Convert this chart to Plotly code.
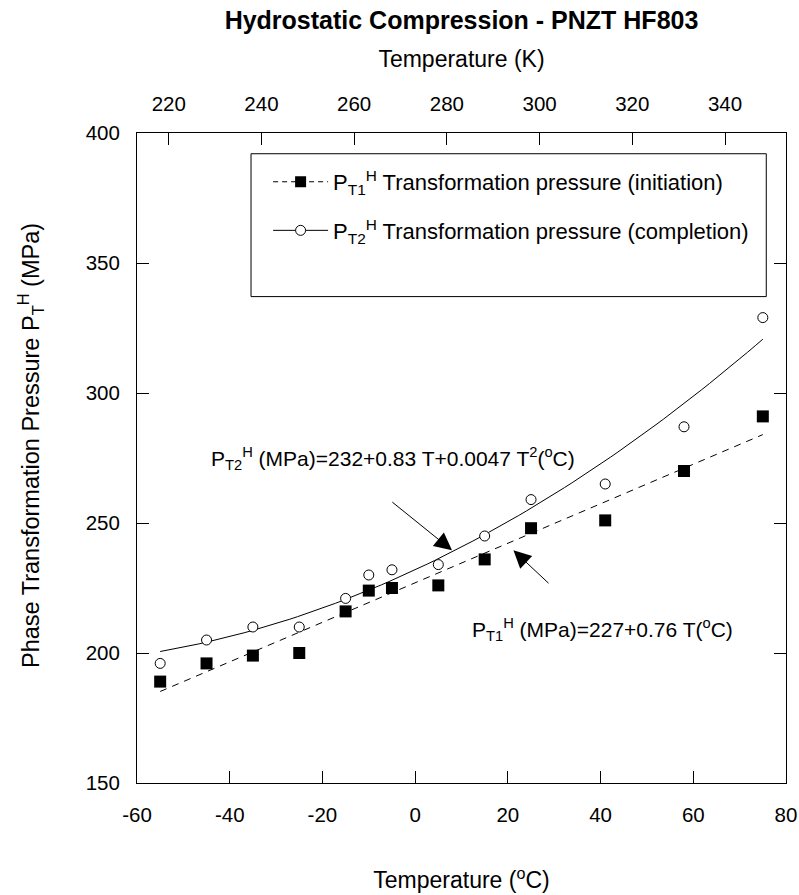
import numpy as np
import plotly.graph_objects as go

# ---- data ----
temp_c = [-55, -45, -35, -25, -15, -10, -5, 5, 15, 25, 41, 58, 75]
p_t1 = [189, 196, 199, 200, 216, 224, 225, 226, 236, 248, 251, 270, 291]
p_t2 = [196, 205, 210, 210, 221, 230, 232, 234, 245, 259, 265, 287, 329]

# fit equations printed on the chart (highest power first)
fit_t1_coefs = [0.76, 227]
fit_t2_coefs = [0.0047, 0.83, 232]
fit_range = [-55, 75]

x_ticks_c = [-60, -40, -20, 0, 20, 40, 60, 80]
x_ticktext_c = ["-60", "-40", "-20", "0", "20", "40", "60", "80"]
x_ticks_k = [220, 240, 260, 280, 300, 320, 340]
y_ticks = [150, 200, 250, 300, 350, 400]
kelvin_offset = 273.15

FONT = "Liberation Sans, Arial, sans-serif"
fs_tick = 20.5
fs_axis = 23
fs_text = 21
fs_legend = 22

t_fit = np.linspace(fit_range[0], fit_range[1], 80)
fit1 = np.polyval(fit_t1_coefs, t_fit)
fit2 = np.polyval(fit_t2_coefs, t_fit)

fig = go.Figure()

# fit lines
fig.add_trace(go.Scatter(x=t_fit, y=fit1, mode="lines", line=dict(color="black", width=1, dash="7px,6px"),
                         showlegend=False, hoverinfo="skip"))
fig.add_trace(go.Scatter(x=t_fit, y=fit2, mode="lines", line=dict(color="black", width=1),
                         showlegend=False, hoverinfo="skip"))
# data markers
fig.add_trace(go.Scatter(x=temp_c, y=p_t1, mode="markers",
                         marker=dict(symbol="square", size=12, color="black", line=dict(width=0)),
                         showlegend=False))
fig.add_trace(go.Scatter(x=temp_c, y=p_t2, mode="markers",
                         marker=dict(symbol="circle", size=10, color="white", line=dict(width=1, color="black")),
                         showlegend=False))
# legend entries
fig.add_trace(go.Scatter(x=[None], y=[None], mode="lines+markers", legendgroup="a",
                         name="P<sub>T1</sub><sup>H</sup> Transformation pressure (initiation)",
                         line=dict(color="black", width=1, dash="5px,4px"),
                         marker=dict(symbol="square", size=11, color="black")))
fig.add_trace(go.Scatter(x=[None], y=[None], mode="lines+markers", legendgroup="b",
                         name="P<sub>T2</sub><sup>H</sup> Transformation pressure (completion)",
                         line=dict(color="black", width=1),
                         marker=dict(symbol="circle", size=10, color="white", line=dict(width=1, color="black"))))
# invisible trace on the Kelvin axis
fig.add_trace(go.Scatter(x=[t + kelvin_offset for t in temp_c], y=p_t1, xaxis="x2", mode="markers",
                         marker=dict(opacity=0), showlegend=False, hoverinfo="skip"))

fig.update_layout(
    width=799, height=895,
    margin=dict(l=137, r=13, t=133, b=112, autoexpand=False),
    paper_bgcolor="white", plot_bgcolor="white",
    font=dict(family=FONT, size=fs_text, color="black"),
    title=dict(text="<b>Hydrostatic Compression - PNZT HF803</b>", x=0.5, xref="paper", xanchor="center",
               y=1 - 20 / 895, yref="container", yanchor="middle", font=dict(size=25, family=FONT)),
    xaxis=dict(range=[-60, 80], tickvals=x_ticks_c, ticktext=x_ticktext_c, ticks="inside", ticklen=12,
               tickcolor="black", showline=True, linecolor="black", linewidth=1, showgrid=False,
               zeroline=False, tickfont=dict(size=fs_tick), ticklabelstandoff=13, automargin=False,
               title=dict(text="Temperature (<sup>o</sup>C)", standoff=47, font=dict(size=fs_axis))),
    xaxis2=dict(range=[-60 + kelvin_offset, 80 + kelvin_offset], tickvals=x_ticks_k, overlaying="x",
                side="top", anchor="y", ticks="inside", ticklen=12, tickcolor="black",
                showline=True, linecolor="black", linewidth=1, showgrid=False, zeroline=False,
                tickfont=dict(size=fs_tick), ticklabelstandoff=13, automargin=False,
                title=dict(text="Temperature (K)", standoff=17, font=dict(size=fs_axis))),
    yaxis=dict(range=[150, 400], tickvals=y_ticks, ticks="inside", ticklen=12, tickcolor="black",
               showline=True, linecolor="black", linewidth=1, mirror="ticks", showgrid=False, zeroline=False,
               tickfont=dict(size=fs_tick), ticklabelstandoff=12, automargin=False),
    legend=dict(x=0.202, y=0.957, xanchor="left", yanchor="top", bgcolor="rgba(0,0,0,0)", borderwidth=0,
                font=dict(size=fs_legend), tracegroupgap=17, itemwidth=55, traceorder="grouped"),
    showlegend=True,
)

# y-axis title (placed as rotated text, centred where the reference puts it)
fig.add_annotation(text="Phase Transformation Pressure P<sub>T</sub><sup>H</sup> (MPa)",
                   xref="paper", yref="paper", x=-(137 - 30) / 649, y=(782.6 - 446) / 649.3,
                   xanchor="center", yanchor="middle", textangle=-90, showarrow=False,
                   font=dict(size=23.5))

# legend frame
fig.add_shape(type="rect", xref="paper", yref="paper", x0=0.1757, x1=0.9696, y0=0.7483, y1=0.9681,
              line=dict(color="black", width=1), fillcolor="rgba(0,0,0,0)")

# equation labels and arrows
fig.add_annotation(x=-44.4, y=274.8, xref="x", yref="y", xanchor="left", yanchor="middle", showarrow=False,
                   text="P<sub>T2</sub><sup>H</sup> (MPa)=232+0.83 T+0.0047 T<sup>2</sup>(<sup>o</sup>C)",
                   font=dict(size=fs_text))
fig.add_annotation(x=11.8, y=208.9, xref="x", yref="y", xanchor="left", yanchor="middle", showarrow=False,
                   text="P<sub>T1</sub><sup>H</sup> (MPa)=227+0.76 T(<sup>o</sup>C)", font=dict(size=fs_text))
fig.add_annotation(x=7.95, y=239.5, ax=-5.25, ay=258.5, xref="x", yref="y", axref="x", ayref="y",
                   text="", showarrow=True, arrowhead=2, arrowsize=3.5, arrowwidth=1, arrowcolor="black")
fig.add_annotation(x=21.2, y=239.5, ax=29.1, ay=226.3, xref="x", yref="y", axref="x", ayref="y",
                   text="", showarrow=True, arrowhead=2, arrowsize=3.5, arrowwidth=1, arrowcolor="black")

fig.write_html("out.html")
